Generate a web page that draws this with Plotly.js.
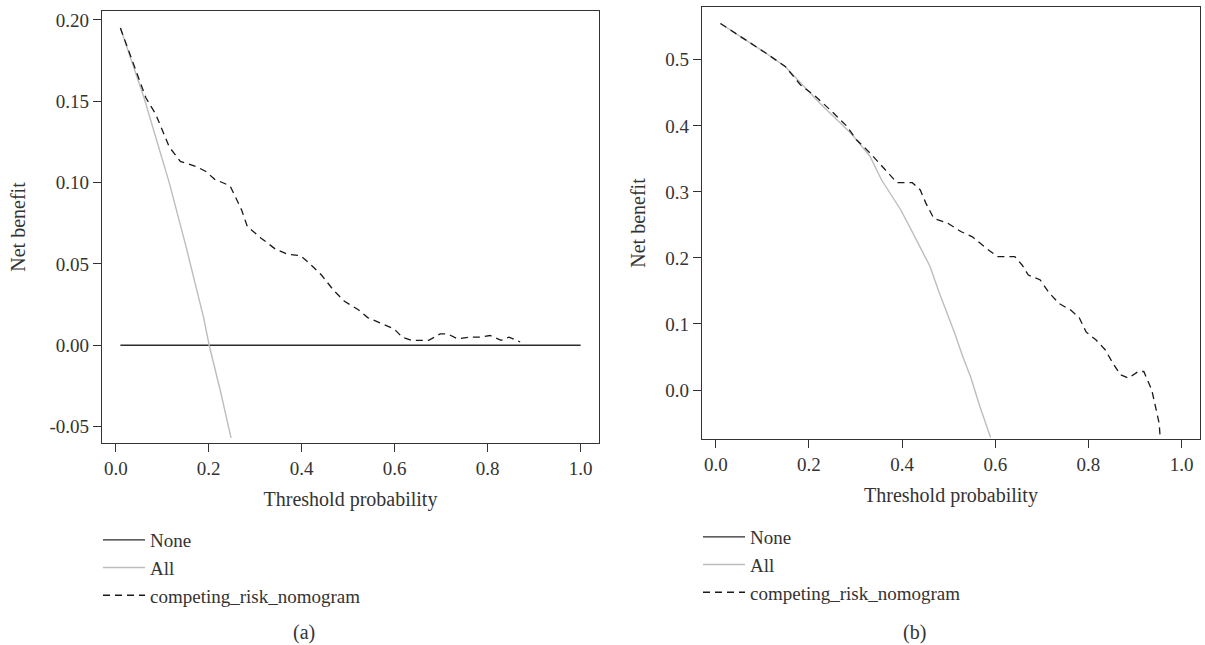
<!DOCTYPE html>
<html>
<head>
<meta charset="utf-8">
<script src="https://cdn.plot.ly/plotly-3.0.1.min.js"></script>
<style>
  html, body { margin: 0; padding: 0; background: #ffffff; }
  #chart { width: 1205px; height: 645px; }
  /* the legend-only "None" entry of panel (b) is shown at full strength, as in the reference */
  #chart g.traces { opacity: 1 !important; }
</style>
</head>
<body>
<div id="chart"></div>
<script>
// ---------- Data ----------
// Panel (a)
var noneA_x = [0.01, 1.0];
var noneA_y = [0, 0];

var allA_x = [0.01, 0.061, 0.115, 0.150, 0.189, 0.201, 0.225, 0.248];
var allA_y = [0.195, 0.152, 0.100, 0.062, 0.017, 0.000, -0.028, -0.057];

var modelA_x = [0.01, 0.049, 0.065, 0.086, 0.098, 0.115, 0.139, 0.172, 0.193, 0.213, 0.246, 0.258,
                0.271, 0.283, 0.312, 0.344, 0.369, 0.398, 0.418, 0.443, 0.468, 0.492, 0.521, 0.542,
                0.575, 0.599, 0.616, 0.636, 0.673, 0.698, 0.714, 0.735, 0.763, 0.784, 0.805, 0.829,
                0.846, 0.870];
var modelA_y = [0.195, 0.165, 0.152, 0.142, 0.134, 0.122, 0.113, 0.110, 0.107, 0.102, 0.098, 0.091,
                0.083, 0.073, 0.066, 0.059, 0.056, 0.055, 0.050, 0.043, 0.034, 0.027, 0.022, 0.017,
                0.013, 0.010, 0.005, 0.003, 0.003, 0.007, 0.007, 0.004, 0.005, 0.005, 0.006, 0.003,
                0.005, 0.002];

// Panel (b): the "None" line is listed in the legend but not drawn inside the plot
var noneB_x = [0.01, 1.0];
var noneB_y = [0, 0];

var allB_x = [0.01, 0.066, 0.108, 0.149, 0.182, 0.224, 0.290, 0.331, 0.356, 0.397, 0.431, 0.460,
              0.480, 0.501, 0.513, 0.530, 0.547, 0.567, 0.590];
var allB_y = [0.555, 0.530, 0.510, 0.490, 0.465, 0.434, 0.389, 0.354, 0.318, 0.273, 0.227, 0.187,
              0.147, 0.109, 0.086, 0.051, 0.020, -0.025, -0.072];

var modelB_x = [0.01, 0.066, 0.108, 0.149, 0.182, 0.215, 0.249, 0.282, 0.302, 0.331, 0.364, 0.389,
                0.422, 0.439, 0.451, 0.468, 0.497, 0.526, 0.551, 0.580, 0.605, 0.642, 0.658, 0.671,
                0.696, 0.716, 0.737, 0.762, 0.780, 0.795, 0.816, 0.836, 0.853, 0.869, 0.886, 0.907,
                0.919, 0.927, 0.936, 0.944, 0.952, 0.954, 0.957];
var modelB_y = [0.555, 0.530, 0.510, 0.490, 0.462, 0.444, 0.422, 0.399, 0.379, 0.359, 0.333, 0.314,
                0.314, 0.303, 0.283, 0.260, 0.253, 0.240, 0.232, 0.215, 0.202, 0.202, 0.189, 0.174,
                0.167, 0.147, 0.131, 0.121, 0.110, 0.088, 0.076, 0.061, 0.040, 0.023, 0.018, 0.028,
                0.028, 0.015, 0.000, -0.025, -0.051, -0.071, -0.090];

// Tick labels
var xTickVals = [0, 0.2, 0.4, 0.6, 0.8, 1.0];
var xTickText = ["0.0", "0.2", "0.4", "0.6", "0.8", "1.0"];
var yTickValsA = [-0.05, 0, 0.05, 0.10, 0.15, 0.20];
var yTickTextA = ["-0.05", "0.00", "0.05", "0.10", "0.15", "0.20"];
var yTickValsB = [0, 0.1, 0.2, 0.3, 0.4, 0.5];
var yTickTextB = ["0.0", "0.1", "0.2", "0.3", "0.4", "0.5"];

var seriesNames = ["None", "All", "competing_risk_nomogram"];
var panelLabels = ["(a)", "(b)"];

// ---------- Styling ----------
var W = 1205, H = 645;
var FONT = "'Liberation Serif', 'Times New Roman', serif";
var INK = "#333333";

function px2x(px) { return px / W; }
function px2y(py) { return 1 - py / H; }

var styleNone = { color: "#2b2b2b", width: 1.4 };
var styleAll = { color: "#bdbdbd", width: 1.4 };
var styleModel = { color: "#1a1a1a", width: 1.3, dash: "7px,5px" };

function tr(x, y, name, line, xa, ya, leg, vis) {
  return { x: x, y: y, name: name, type: "scatter", mode: "lines", line: line,
           xaxis: xa, yaxis: ya, legend: leg, visible: vis, hoverinfo: "x+y+name" };
}

var traces = [
  tr(noneA_x, noneA_y, seriesNames[0], styleNone, "x", "y", "legend", true),
  tr(allA_x, allA_y, seriesNames[1], styleAll, "x", "y", "legend", true),
  tr(modelA_x, modelA_y, seriesNames[2], styleModel, "x", "y", "legend", true),
  tr(noneB_x, noneB_y, seriesNames[0], styleNone, "x2", "y2", "legend2", "legendonly"),
  tr(allB_x, allB_y, seriesNames[1], styleAll, "x2", "y2", "legend2", true),
  tr(modelB_x, modelB_y, seriesNames[2], styleModel, "x2", "y2", "legend2", true)
];

function xAxis(domain, anchor) {
  return {
    domain: domain, anchor: anchor, range: [-0.0296, 1.0396],
    tickmode: "array", tickvals: xTickVals, ticktext: xTickText,
    ticks: "outside", ticklen: 8, tickwidth: 1.2, tickcolor: INK,
    showline: true, linecolor: INK, linewidth: 1.4, mirror: true,
    showgrid: false, zeroline: false,
    tickfont: { family: FONT, size: 19, color: INK },
    title: { text: "Threshold probability", font: { family: FONT, size: 20, color: INK }, standoff: 13 },
    automargin: false, fixedrange: true
  };
}
function yAxis(domain, anchor, range, vals, text, standoff) {
  return {
    domain: domain, anchor: anchor, range: range,
    tickmode: "array", tickvals: vals, ticktext: text,
    ticks: "outside", ticklen: 8, tickwidth: 1.2, tickcolor: INK,
    showline: true, linecolor: INK, linewidth: 1.4, mirror: true,
    showgrid: false, zeroline: false,
    tickfont: { family: FONT, size: 19, color: INK },
    title: { text: "Net benefit", font: { family: FONT, size: 20, color: INK }, standoff: standoff },
    automargin: false, fixedrange: true
  };
}

var legendStyle = {
  font: { family: FONT, size: 19, color: INK },
  bgcolor: "rgba(0,0,0,0)", borderwidth: 0, itemwidth: 42,
  xanchor: "left", yanchor: "top", orientation: "v", itemclick: false, itemdoubleclick: false
};

var layout = {
  width: W, height: H,
  margin: { l: 0, r: 0, t: 0, b: 0 },
  paper_bgcolor: "#ffffff", plot_bgcolor: "#ffffff",
  font: { family: FONT, size: 18, color: INK },
  showlegend: true,
  xaxis: xAxis([px2x(102), px2x(599)], "y"),
  yaxis: yAxis([px2y(443), px2y(11)], "x", [-0.0601, 0.2055], yTickValsA, yTickTextA, 18),
  xaxis2: xAxis([px2x(702), px2x(1200)], "y2"),
  yaxis2: yAxis([px2y(439), px2y(7)], "x2", [-0.0742, 0.580], yTickValsB, yTickTextB, 14),
  legend: Object.assign({}, legendStyle, { x: px2x(98), y: px2y(521) }),
  legend2: Object.assign({}, legendStyle, { x: px2x(698), y: px2y(518) }),
  annotations: [
    { text: panelLabels[0], x: px2x(304), y: px2y(632), xref: "paper", yref: "paper",
      xanchor: "center", yanchor: "middle", showarrow: false, font: { family: FONT, size: 20, color: INK } },
    { text: panelLabels[1], x: px2x(914), y: px2y(632), xref: "paper", yref: "paper",
      xanchor: "center", yanchor: "middle", showarrow: false, font: { family: FONT, size: 20, color: INK } }
  ]
};

Plotly.newPlot("chart", traces, layout, { displayModeBar: false, staticPlot: false, responsive: false });
</script>
</body>
</html>
